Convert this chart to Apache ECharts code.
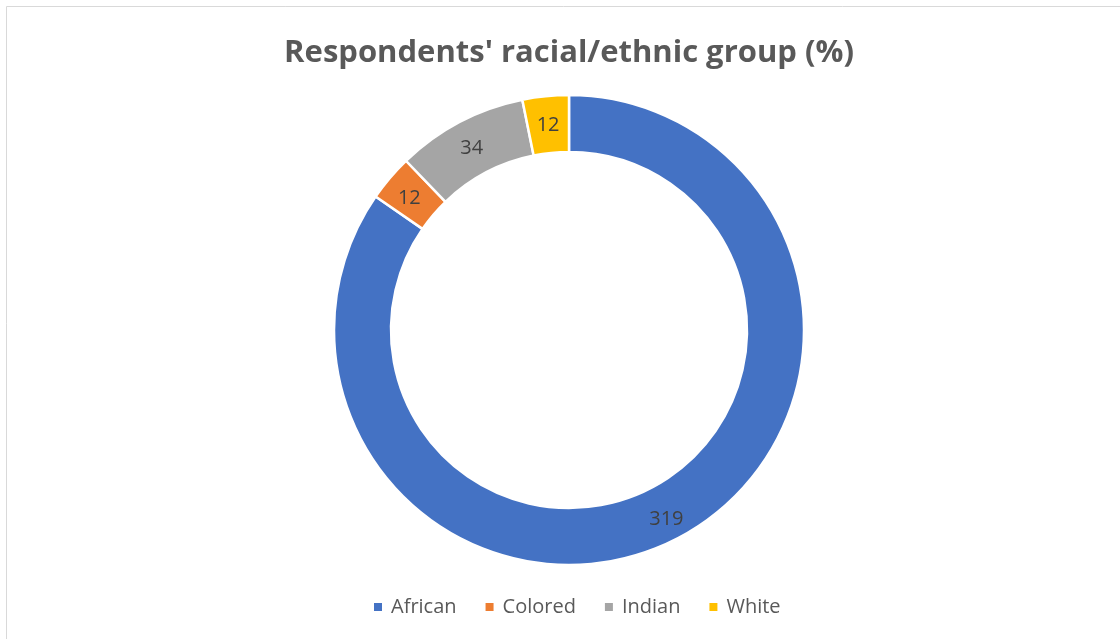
<!DOCTYPE html>
<html><head><meta charset="utf-8">
<script src="https://cdn.jsdelivr.net/npm/echarts@6/dist/echarts.min.js"></script>
<style>html,body{margin:0;padding:0;background:#fff}#c{width:1120px;height:639px}</style>
</head><body><div id="c"></div>
<script>
const categories = ['African', 'Colored', 'Indian', 'White'];
const values = [319, 12, 34, 12];
const colors = ['#4472C4', '#ED7D31', '#A5A5A5', '#FFC000'];
const titleText = "Respondents' racial/ethnic group (%)";

const chart = echarts.init(document.getElementById('c'));
chart.setOption({
  animation: false,
  color: colors,
  title: {
    text: titleText, left: 564, textAlign: 'center', top: 33,
    textStyle: { fontFamily: 'Open Sans', fontWeight: 'bold', fontSize: 31, color: '#595959' }
  },
  legend: {
    bottom: 17, left: 367, itemWidth: 10, itemHeight: 10, itemGap: 27,
    icon: 'rect',
    textStyle: { fontFamily: 'Open Sans', fontSize: 20, color: '#595959', padding: [0, 0, 0, 3] },
    data: categories
  },
  graphic: [{ type: 'rect', shape: { x: 6.5, y: 6.5, width: 1200, height: 700 },
    style: { fill: 'none', stroke: '#d9d9d9', lineWidth: 1 }, silent: true }],
  series: [{
    type: 'pie', center: [569, 330], radius: [178, 235], startAngle: 90, clockwise: true,
    avoidLabelOverlap: false,
    itemStyle: { borderColor: '#fff', borderWidth: 2.5 },
    label: { show: true, position: 'inside', formatter: '{c}', fontFamily: 'Open Sans', fontSize: 20, color: '#404040', offset: [0, 4] },
    labelLine: { show: false },
    data: categories.map((n, i) => ({ name: n, value: values[i] }))
  }]
});
</script></body></html>
